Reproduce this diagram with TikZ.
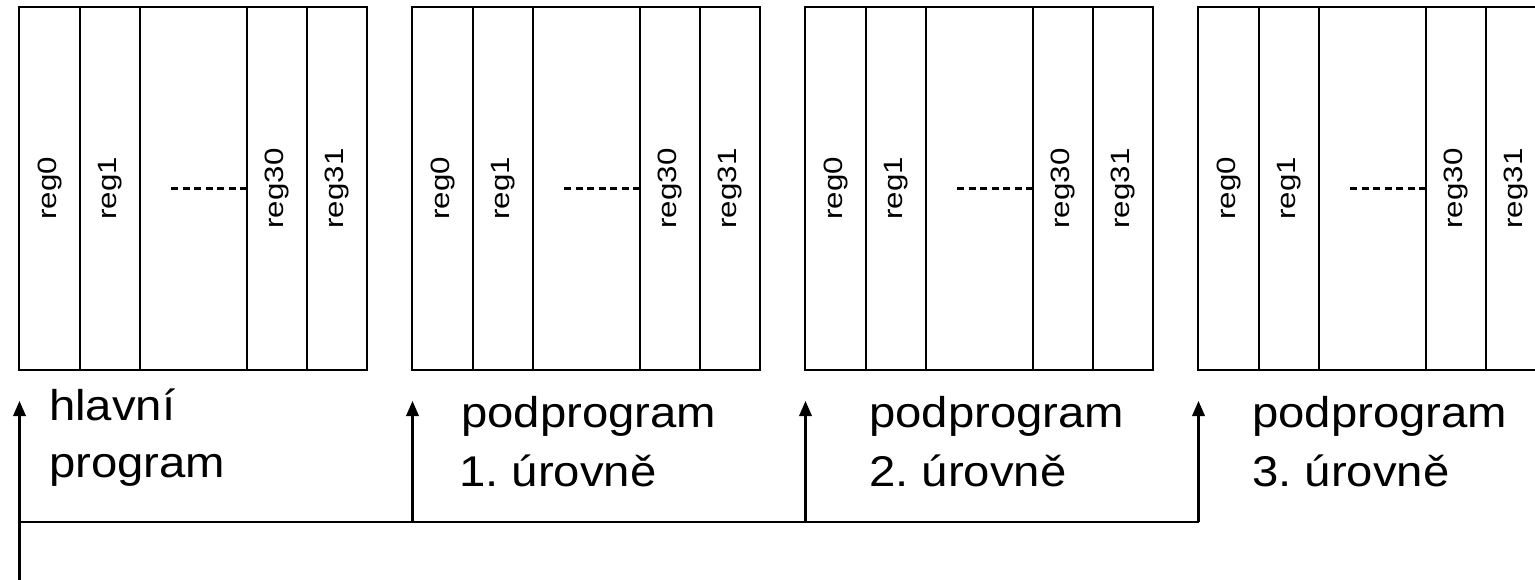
\documentclass[tikz,border=0pt]{standalone}
\usepackage{fontspec}
\setmainfont{Liberation Sans}
\usepackage{graphicx}
\usetikzlibrary{arrows.meta}
\frenchspacing
\newcommand\hstr[1]{\scalebox{1.1}[1]{#1}}
\newcommand\reglab[1]{\rotatebox{90}{\scalebox{1.18}[1]{#1}}}
\begin{document}
\begin{tikzpicture}[x=1pt,y=-1pt,
  col/.style={draw, line width=2.1pt, rectangle, inner sep=0pt, minimum height=363pt,
    font=\fontsize{26.5}{30}\selectfont},
  lab/.style={anchor=base west, inner sep=0pt, font=\fontsize{43}{50}\selectfont},
  conn/.style={line width=2.1pt},
  arr/.style={line width=2.1pt, -{Triangle[length=15pt,width=12.5pt]}}]
\clip (0,0) rectangle (1535,580);
\fill[white] (0,0) rectangle (1535,580);
\foreach \ox/\i in {0/1,393/2,786/3,1179/4} {
  \node[col, minimum width=61pt]  (c0-\i)  at (\ox+49.5,188.5) {\reglab{reg0}};
  \node[col, minimum width=60pt]  (c1-\i)  at (\ox+110,188.5)  {\reglab{reg1}};
  \node[col, minimum width=107pt] (cg-\i)  at (\ox+193.5,188.5) {};
  \node[col, minimum width=60pt]  (c30-\i) at (\ox+277,188.5)  {\reglab{reg30}};
  \node[col, minimum width=60pt]  (c31-\i) at (\ox+337,188.5)  {\reglab{reg31}};
  \coordinate (d-\i) at (\ox+171,188.5);
  \draw[line width=2.1pt, dash pattern=on 7pt off 4.5pt] (d-\i) -- (c30-\i.west);
  \coordinate (tip-\i) at (\ox+19.5,401);
  \coordinate (base-\i) at (\ox+19.5,522);
}
\coordinate (start) at (19.5,590);
\draw[conn] (start) -- (base-1) -- (base-4);
\foreach \i in {1,2,3,4} { \draw[arr] (base-\i) -- (tip-\i); }
\node[lab] (l1a) at (49,420) {\hstr{hlavní}};
\node[lab] (l1b) at (49,477) {\hstr{program}};
\node[lab] (l2a) at (461,427) {\hstr{podprogram}};
\node[lab] (l2b) at (459,486) {\hstr{1. úrovně}};
\node[lab] (l3a) at (869,427) {\hstr{podprogram}};
\node[lab] (l3b) at (869,486) {\hstr{2. úrovně}};
\node[lab] (l4a) at (1252,427) {\hstr{podprogram}};
\node[lab] (l4b) at (1252,486) {\hstr{3. úrovně}};
\end{tikzpicture}
\end{document}
